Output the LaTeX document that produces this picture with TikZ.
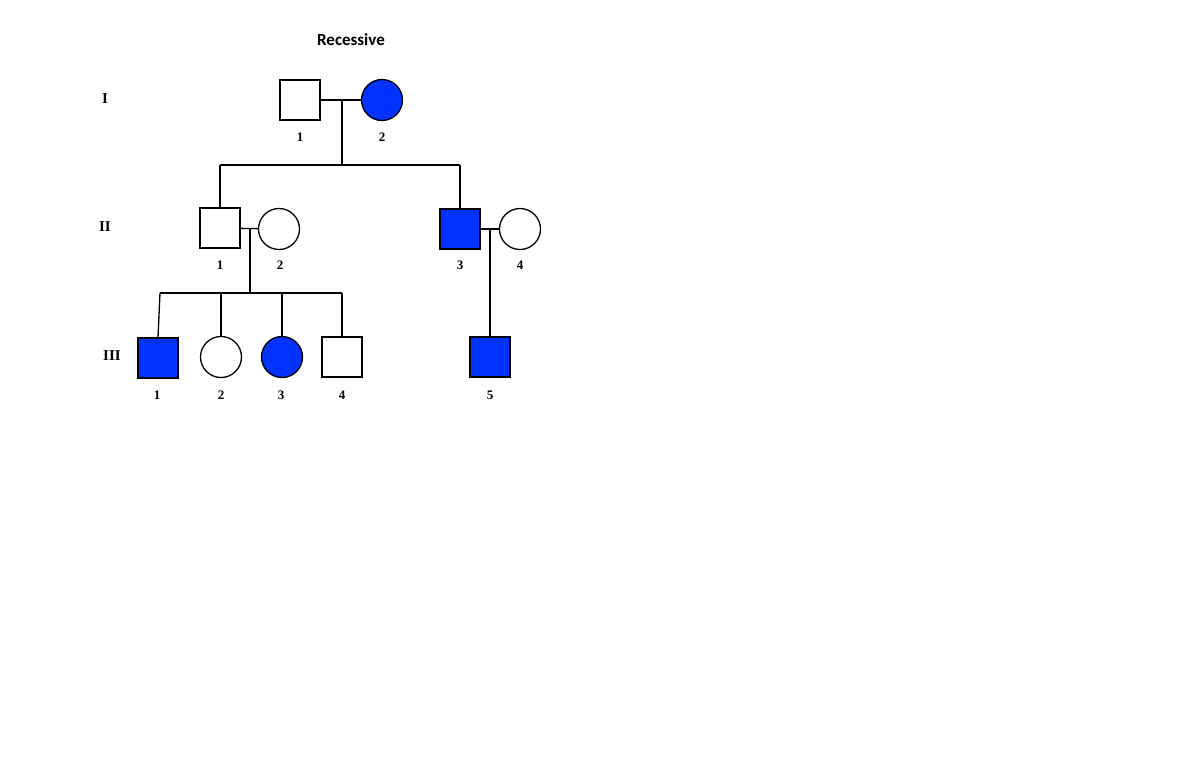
\documentclass[tikz,border=0pt]{standalone}
\usepackage{fontspec}
\setmainfont{Liberation Serif}
\newfontfamily\titlefont{Carlito}
\usetikzlibrary{positioning}
\definecolor{affected}{RGB}{0,51,255}

\begin{document}
\begin{tikzpicture}[
    x=1pt, y=-1pt,
    male/.style={draw, line width=1.3pt, rectangle, minimum size=40pt, inner sep=0pt, fill=white},
    female/.style={draw, line width=1.3pt, circle, minimum size=41pt, inner sep=0pt, fill=white},
    sick/.style={fill=affected},
    num/.style={font=\fontsize{13}{13}\selectfont\bfseries},
    gen/.style={font=\fontsize{15}{15}\selectfont\bfseries},
    link/.style={line width=1.3pt}
]
\useasboundingbox (0,0) rectangle (1200,769);

\node[font=\titlefont\fontsize{17}{17}\selectfont\bfseries] (title) at (351,40) {Recessive};

% generation labels
\node[gen] (g1) at (105,99) {I};
\node[gen] (g2) at (105,227) {II};
\node[gen] (g3) at (112,356) {III};

% generation I
\node[male] (i1) at (300,100) {};
\node[female, sick] (i2) at (382,100) {};
\node[num] at (300,137) {1};
\node[num] at (382,137) {2};
\coordinate (m1) at (342,100);
\draw[link] (i1) -- (i2);
\draw[link] (m1) -- (342,165);
\draw[link] (220,165) -- (460,165);

% generation II
\node[male] (ii1) at (220,228) {};
\node[female] (ii2) at (279,229) {};
\node[male, sick] (ii3) at (460,229) {};
\node[female] (ii4) at (520,229) {};
\node[num] at (220,265) {1};
\node[num] at (280,265) {2};
\node[num] at (460,265) {3};
\node[num] at (520,265) {4};
\draw[link] (220,165) -- (ii1.north);
\draw[link] (460,165) -- (ii3.north);
\draw[link] (ii1) -- (ii2);
\draw[link] (ii3) -- (ii4);
\coordinate (m2) at (250,229);
\coordinate (m3) at (490,229);
\draw[link] (m2) -- (250,293);
\draw[link] (160,293) -- (342,293);

% generation III
\node[male, sick] (iii1) at (158,358) {};
\node[female] (iii2) at (221,357) {};
\node[female, sick] (iii3) at (282,357) {};
\node[male] (iii4) at (342,357) {};
\node[male, sick] (iii5) at (490,357) {};
\node[num] at (157,395) {1};
\node[num] at (221,395) {2};
\node[num] at (281,395) {3};
\node[num] at (342,395) {4};
\node[num] at (490,395) {5};
\draw[link] (160,293) -- (iii1.north);
\draw[link] (221,293) -- (iii2.north);
\draw[link] (282,293) -- (iii3.north);
\draw[link] (342,293) -- (iii4.north);
\draw[link] (m3) -- (iii5.north);

\end{tikzpicture}
\end{document}
